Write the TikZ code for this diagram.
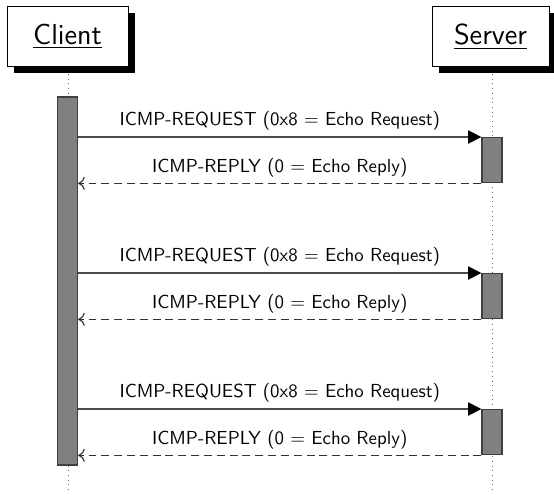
\documentclass[tikz,border=0pt]{standalone}
\usetikzlibrary{arrows.meta,shadows}
\begin{document}
\begin{tikzpicture}[x=0.53pt,y=-0.53pt,
  font=\sffamily,
  party/.style={draw=black, fill=white, line width=0.5pt, inner sep=0pt, minimum height=60*0.53pt, font=\sffamily\fontsize{15.3}{18}\selectfont,
    drop shadow={shadow xshift=3.6pt, shadow yshift=-3.6pt, fill=black, opacity=1}},
  bar/.style={draw=black!75, fill=black!50, line width=0.7pt, inner sep=0pt, minimum width=20*0.53pt},
  life/.style={draw=black!60, dotted, line width=0.5pt},
  req/.style={draw=black!70, line width=0.7pt, -{Triangle[length=7pt,width=7pt,color=black]}},
  rep/.style={draw=black!80, line width=0.6pt, dash pattern=on 4.2pt off 2.6pt, -{To[length=3.5pt,width=7pt,color=black!80]}},
  lbl/.style={font=\sffamily\normalsize, above, inner sep=3.2pt, text=black}
]
\useasboundingbox (0,0) rectangle (554,495);
% parties
\node[party, minimum width=121*0.53pt] (client) at (67.5,36.5) {\underline{Client}};
\node[party, minimum width=117*0.53pt] (server) at (490.5,36.5) {\underline{Server}};
% lifeline ends
\coordinate (cend) at (68,492);
\coordinate (send) at (492,492);
\draw[life] (68,74) -- (cend);
\draw[life] (492,74) -- (send);
% activation bars
\node[bar, minimum height=368*0.53pt] (cbar) at (67.5,281) {};
\foreach \i/\t in {1/137,2/273,3/409}{
  \node[bar, minimum height=45*0.53pt, anchor=north] (s\i) at (492,\t) {};
  \draw[req] (cbar.east |- s\i.north west) -- node[lbl] {ICMP-REQUEST (0x8 = Echo Request)} (s\i.north west);
  \draw[rep] (s\i.south west) -- node[lbl] {ICMP-REPLY (0 = Echo Reply)} (cbar.east |- s\i.south west);
}
\end{tikzpicture}
\end{document}
